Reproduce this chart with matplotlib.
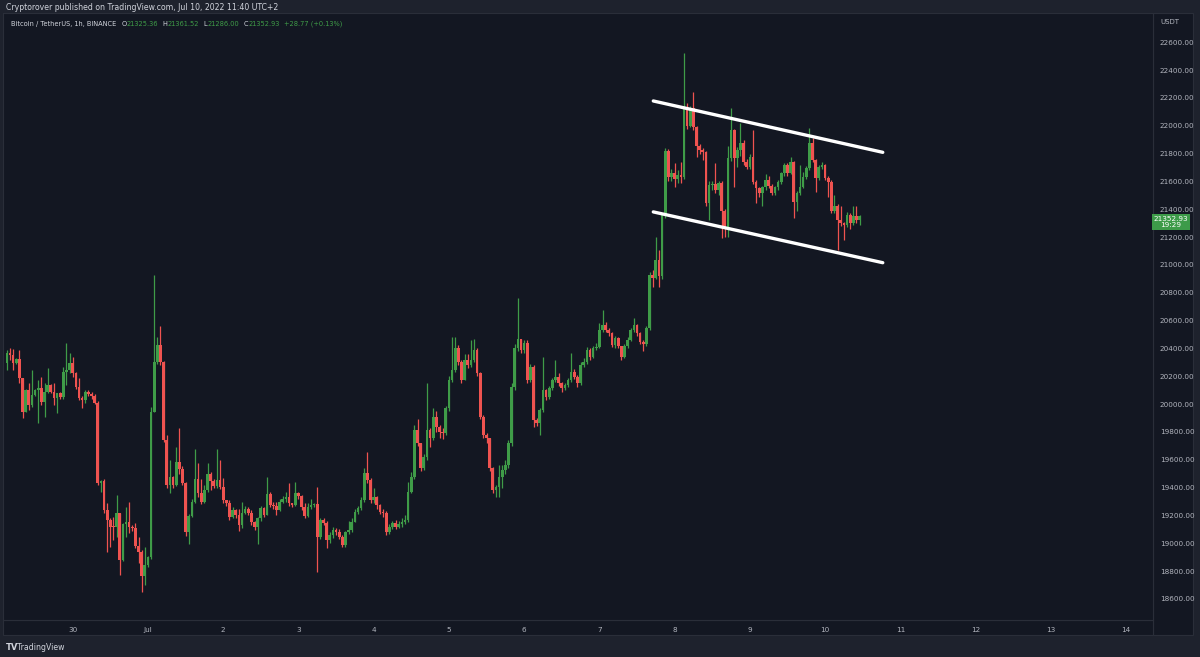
import matplotlib.pyplot as plt
import numpy as np
from matplotlib.transforms import blended_transform_factory

# BTC/USDT 1h candles, Jun 29 03:00 -> Jul 10 11:00 (UTC+2)
first_open = 20293
closes = [
    20370, 20350, 20293, 20322, 20186, 19946, 20102, 19994, 20066, 20102,
    20114, 20018, 20090, 20138, 20090, 20042, 20078, 20054, 20234, 20245,
    20298, 20222, 20126, 20042, 20030, 20090, 20073, 20059, 20011, 19431,
    19450, 19240, 19168, 19120, 19115, 19216, 18880, 19139, 19151, 19120,
    19108, 18981, 18940, 18765, 18844, 18904, 19946, 20305, 20425, 20305,
    19743, 19419, 19474, 19419, 19587, 19532, 19436, 19084, 19197, 19300,
    19460, 19359, 19300, 19383, 19498, 19450, 19412, 19455, 19407, 19311,
    19288, 19192, 19240, 19204, 19132, 19216, 19245, 19220, 19156, 19120,
    19180, 19252, 19204, 19355, 19276, 19270, 19240, 19300, 19316, 19331,
    19288, 19276, 19364, 19340, 19264, 19197, 19264, 19276, 19283, 19048,
    19168, 19149, 19024, 19060, 19096, 19084, 19048, 18988, 19084, 19096,
    19156, 19228, 19252, 19312, 19503, 19455, 19312, 19331, 19276, 19228,
    19216, 19084, 19115, 19144, 19120, 19139, 19156, 19168, 19371, 19479,
    19815, 19719, 19539, 19623, 19815, 19755, 19906, 19839, 19802, 19790,
    19970, 20174, 20245, 20401, 20305, 20174, 20317, 20281, 20317, 20389,
    20221, 19910, 19778, 19754, 19539, 19383, 19407, 19479, 19527, 19563,
    19718, 20126, 20401, 20466, 20389, 20442, 20174, 20269, 19886, 19867,
    19958, 20102, 20054, 20114, 20174, 20198, 20150, 20114, 20138, 20174,
    20233, 20198, 20150, 20281, 20305, 20389, 20336, 20401, 20413, 20533,
    20569, 20533, 20509, 20426, 20473, 20414, 20342, 20414, 20462, 20533,
    20569, 20509, 20449, 20433, 20545, 20929, 20905, 21036, 20917, 21360,
    21815, 21635, 21664, 21616, 21647, 21630, 22138, 21999, 22126, 21990,
    21851, 21827, 21808, 21443, 21575, 21582, 21539, 21587, 21384, 21276,
    21767, 21970, 21767, 21827, 21875, 21743, 21707, 21779, 21599, 21551,
    21515, 21558, 21611, 21568, 21515, 21558, 21599, 21659, 21719, 21659,
    21743, 21455, 21515, 21563, 21635, 21695, 21875, 21755, 21623, 21707,
    21719, 21623, 21599, 21384, 21420, 21324, 21300, 21288, 21360, 21300,
    21348, 21325.36, 21352.93,
]
highs = [
    20390, 20400, 20395, 20330, 20390, 20190, 20110, 20150, 20245, 20110,
    20174, 20198, 20150, 20257, 20145, 20150, 20080, 20090, 20270, 20442,
    20365, 20340, 20230, 20186, 20060, 20102, 20100, 20090, 20070, 20020,
    19455, 19460, 19288, 19180, 19190, 19347, 19220, 19145, 19264, 19300,
    19130, 19144, 19048, 18952, 18976, 18910, 19980, 20928, 20480, 20560,
    20310, 19780, 19600, 19480, 19690, 19830, 19555, 19440, 19210, 19320,
    19678, 19580, 19460, 19420, 19580, 19510, 19460, 19680, 19600, 19470,
    19300, 19310, 19260, 19250, 19250, 19300, 19270, 19260, 19240, 19160,
    19190, 19270, 19260, 19475, 19370, 19300, 19300, 19320, 19340, 19370,
    19430, 19290, 19440, 19370, 19350, 19290, 19290, 19320, 19290, 19408,
    19180, 19180, 19160, 19080, 19120, 19110, 19100, 19060, 19090, 19160,
    19180, 19250, 19270, 19330, 19540, 19659, 19470, 19400, 19340, 19280,
    19250, 19230, 19140, 19160, 19170, 19160, 19180, 19200, 19440, 19510,
    19850, 19891, 19720, 19640, 20150, 19830, 19970, 19950, 19850, 19830,
    19990, 20200, 20485, 20485, 20425, 20320, 20360, 20360, 20460, 20470,
    20400, 20230, 19920, 19790, 19760, 19545, 19420, 19560, 19560, 19600,
    19740, 20150, 20430, 20760, 20470, 20460, 20460, 20290, 20280, 19900,
    19970, 20341, 20110, 20130, 20190, 20317, 20225, 20160, 20150, 20190,
    20365, 20250, 20210, 20300, 20330, 20410, 20400, 20420, 20440, 20581,
    20676, 20593, 20545, 20520, 20490, 20480, 20420, 20430, 20480, 20550,
    20617, 20575, 20520, 20460, 20560, 20950, 20965, 21204, 21108, 21372,
    21839, 21830, 21690, 21731, 21680, 21743, 22526, 22160, 22140, 22246,
    22000, 21870, 21840, 21820, 21600, 21600, 21731, 21600, 21600, 21400,
    21851, 22126, 21980, 21850, 22018, 21900, 21760, 21800, 21970, 21610,
    21560, 21570, 21650, 21640, 21580, 21570, 21610, 21670, 21730, 21730,
    21779, 21750, 21530, 21720, 21670, 21710, 21982, 21910, 21760, 21720,
    21740, 21725, 21640, 21610, 21500, 21440, 21420, 21310, 21380, 21370,
    21420, 21420, 21361.52,
]
lows = [
    20245, 20320, 20245, 20290, 20150, 19898, 19940, 19958, 19982, 20060,
    19862, 19994, 19910, 20078, 20080, 19994, 19934, 20040, 20040, 20138,
    20220, 20198, 20110, 20030, 19970, 20006, 20060, 20040, 20000, 19420,
    19371, 19216, 18940, 18976, 19024, 19048, 18772, 18870, 19048, 19072,
    19090, 18964, 18856, 18650, 18700, 18830, 18890, 19940, 20290, 20280,
    19730, 19395, 19360, 19400, 19410, 19500, 19420, 19050, 18996, 19190,
    19290, 19330, 19280, 19290, 19370, 19380, 19400, 19400, 19390, 19290,
    19270, 19170, 19180, 19180, 19085, 19110, 19210, 19200, 19130, 19095,
    18996, 19160, 19190, 19200, 19260, 19250, 19200, 19230, 19290, 19300,
    19270, 19260, 19270, 19320, 19240, 19180, 19190, 19250, 19260, 18797,
    19030, 19130, 18964, 19000, 19040, 19060, 19030, 18970, 18970, 19070,
    19080, 19150, 19210, 19240, 19300, 19430, 19290, 19290, 19250, 19210,
    19190, 19060, 19070, 19100, 19100, 19110, 19120, 19140, 19150, 19360,
    19460, 19700, 19520, 19530, 19600, 19690, 19740, 19800, 19760, 19750,
    19780, 19950, 20160, 20230, 20280, 20150, 20170, 20260, 20270, 20300,
    20200, 19890, 19760, 19720, 19520, 19360, 19330, 19330, 19400, 19500,
    19540, 19700, 20100, 20380, 20370, 20370, 20150, 20160, 19838, 19840,
    19778, 19940, 20030, 20040, 20100, 20160, 20130, 20090, 20100, 20120,
    20160, 20180, 20120, 20140, 20270, 20290, 20320, 20330, 20390, 20400,
    20520, 20520, 20490, 20410, 20402, 20400, 20318, 20330, 20400, 20450,
    20520, 20490, 20430, 20380, 20420, 20530, 20845, 20900, 20845, 20900,
    21340, 21600, 21600, 21563, 21590, 21590, 21620, 21980, 21990, 21970,
    21779, 21800, 21755, 21420, 21324, 21540, 21520, 21500, 21192, 21204,
    21200, 21750, 21563, 21700, 21780, 21720, 21690, 21690, 21580, 21443,
    21490, 21420, 21540, 21550, 21500, 21500, 21540, 21580, 21640, 21640,
    21650, 21336, 21384, 21500, 21550, 21620, 21680, 21740, 21527, 21610,
    21690, 21610, 21491, 21370, 21370, 21108, 21280, 21180, 21270, 21260,
    21290, 21300, 21286.00,
]

day_labels = ['30', 'Jul', '2', '3', '4', '5', '6', '7', '8', '9', '10', '11', '12', '13', '14']
first_midnight = 21  # hours from first candle to Jun 30 00:00
price_ticks = np.arange(18600, 22601, 200)

# descending channel drawn on the chart (hour index, price)
chan_x = [206.2, 279.4]
chan_upper = [22178, 21809]
chan_lower = [21381, 21016]

last_price = 21352.93
countdown = '19:29'
ohlc_legend = [('O', '21325.36'), ('H', '21361.52'), ('L', '21286.00'), ('C', '21352.93')]
change_text = '+28.77 (+0.13%)'

BG = '#131722'
OUTER = '#1e222d'
BORDER = '#2a2e39'
TXT = '#b2b5be'
UP = '#3f9c48'
DOWN = '#ef5350'

closes = np.array(closes, dtype=float)
highs = np.array(highs, dtype=float)
lows = np.array(lows, dtype=float)
opens = np.concatenate([[first_open], closes[:-1]])
highs = np.maximum(highs, np.maximum(opens, closes))
lows = np.minimum(lows, np.minimum(opens, closes))
x = np.arange(len(closes))
colors = np.where(closes >= opens, UP, DOWN)

fig = plt.figure(figsize=(12, 6.57), dpi=100, facecolor=OUTER)
ax = fig.add_axes([3 / 1200, 37 / 657, 1150 / 1200, 607 / 657], facecolor=BG)

ax.vlines(x, lows, highs, colors=colors, linewidth=0.9, zorder=2)
body_low = np.minimum(opens, closes)
body_h = np.maximum(np.abs(closes - opens), 7)
ax.bar(x, body_h, bottom=body_low, width=0.85, color=colors, linewidth=0, zorder=3)

ax.plot(chan_x, chan_upper, color='white', linewidth=2.4, solid_capstyle='round', zorder=4)
ax.plot(chan_x, chan_lower, color='white', linewidth=2.4, solid_capstyle='round', zorder=4)

ax.set_xlim(-1.24, 365.6)
ax.set_ylim(18449, 22810)

ax.set_xticks(first_midnight + 24 * np.arange(len(day_labels)))
ax.set_xticklabels(day_labels)
ax.yaxis.tick_right()
ax.set_yticks(price_ticks)
ax.set_yticklabels([f'{p:.2f}' for p in price_ticks])
ax.tick_params(axis='both', length=0, colors=TXT, labelsize=5.2)
ax.tick_params(axis='x', pad=5)
ax.tick_params(axis='y', pad=5)
for s in ax.spines.values():
    s.set_color(BORDER)
    s.set_linewidth(0.8)

# price axis / time axis frames
fig.add_artist(plt.Rectangle((1153 / 1200, 22 / 657), 40 / 1200, 622 / 657, transform=fig.transFigure,
                             facecolor=BG, edgecolor=BORDER, linewidth=0.8, zorder=0))
fig.add_artist(plt.Rectangle((3 / 1200, 22 / 657), 1150 / 1200, 15 / 657, transform=fig.transFigure,
                             facecolor=BG, edgecolor=BORDER, linewidth=0.8, zorder=0))
fig.text(1160 / 1200, 1 - 22 / 657, 'USDT', color=TXT, fontsize=5, va='center', ha='left')

# last price tag
tr = blended_transform_factory(fig.transFigure, ax.transData)
ax.text(1171 / 1200, last_price, f'{last_price:.2f}\n{countdown}', transform=tr, ha='center', va='top',
        color='white', fontsize=5.2, linespacing=1.1, zorder=6, clip_on=False,
        bbox=dict(boxstyle='square,pad=0.25', facecolor='#3d9b49', edgecolor='none'))

# header texts
fig.text(6 / 1200, 1 - 8 / 657, 'Cryptorover published on TradingView.com, Jul 10, 2022 11:40 UTC+2',
         color='#d1d4dc', fontsize=5.6, va='center', ha='left')

# symbol legend, laid out piece by piece
renderer = fig.canvas.get_renderer()
y_leg = 1 - 24 / 657
pieces = [('Bitcoin / TetherUS, 1h, BINANCE', '#d1d4dc', 5)]
for key, val in ohlc_legend:
    pieces.append((key, '#d1d4dc', 0.5))
    pieces.append((val, UP, 4))
pieces.append((change_text, UP, 0))
xpos = 11
for txt, col, gap in pieces:
    t = fig.text(xpos / 1200, y_leg, txt, color=col, fontsize=4.8, va='center', ha='left')
    xpos += t.get_window_extent(renderer).width + gap

# footer logo
fig.text(6 / 1200, 10 / 657, 'TV', color='#d1d4dc', fontsize=6, fontweight='bold', va='center')
fig.text(17 / 1200, 10 / 657, 'TradingView', color='#d1d4dc', fontsize=5.6, va='center')

fig.savefig('out.png', dpi=100, facecolor=OUTER)
